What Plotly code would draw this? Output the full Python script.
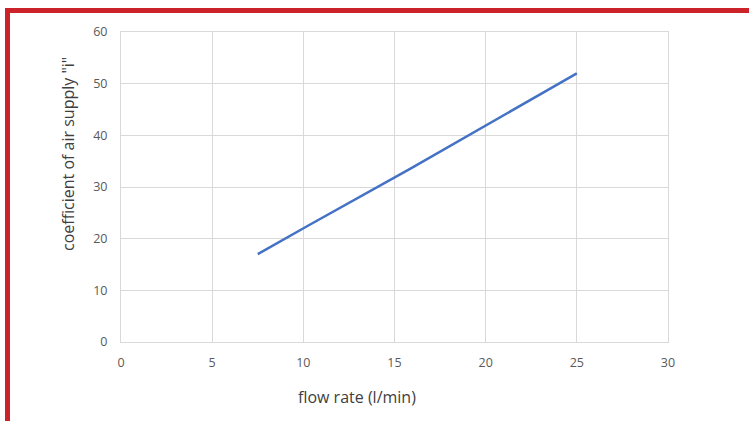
import plotly.graph_objects as go

flow_rate = [7.5, 10.3, 15.9, 25.0]
coefficient = [17.0, 22.6, 33.6, 52.0]
x_ticks = [0, 5, 10, 15, 20, 25, 30]
y_ticks = [0, 10, 20, 30, 40, 50, 60]

W, H = 749, 421
L, R, T, B = 121, 668, 32, 342

def px(x):
    return (x - L) / (R - L)

def py(y):
    return (B - y) / (B - T)

fig = go.Figure()
fig.add_trace(go.Scatter(x=flow_rate, y=coefficient, mode="lines",
                         line=dict(color="#4472C4", width=2.5), showlegend=False))

axis_common = dict(showgrid=True, gridcolor="#d9d9d9", gridwidth=1, zeroline=False,
                   showline=True, linecolor="#d9d9d9", linewidth=1, mirror=True,
                   tickfont=dict(family="Open Sans", size=12.5, color="#595959"), ticks="")

fig.update_xaxes(range=[0, 30], tickvals=x_ticks, ticklabelstandoff=9, **axis_common)
fig.update_yaxes(range=[0, 60], tickvals=y_ticks, ticklabelstandoff=10, **axis_common)

fig.add_annotation(text="flow rate (l/min)", xref="paper", yref="paper",
                   x=px(357), y=py(397), xanchor="center", yanchor="middle", showarrow=False,
                   font=dict(family="Open Sans", size=16, color="#404040"))
fig.add_annotation(text='coefficient of air supply "i"', xref="paper", yref="paper",
                   x=px(68), y=py(154), xanchor="center", yanchor="middle",
                   showarrow=False, textangle=-90,
                   font=dict(family="Open Sans", size=16, color="#404040"))

fig.add_shape(type="rect", xref="paper", yref="paper",
              x0=px(7.5), x1=px(800), y0=py(500), y1=py(10.5),
              line=dict(color="#CC2229", width=5), layer="above")

fig.update_layout(width=W, height=H, margin=dict(l=L, r=W - R, t=T, b=H - B),
                  paper_bgcolor="white", plot_bgcolor="white")

fig.write_html("out.html")
